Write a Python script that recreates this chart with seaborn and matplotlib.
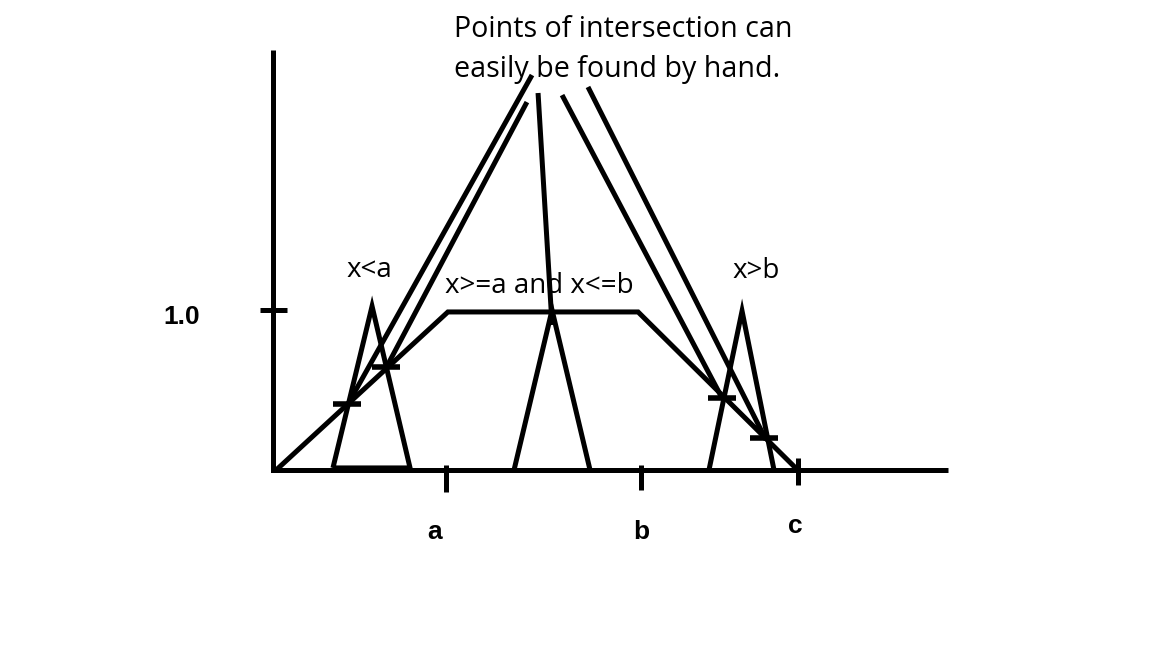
import matplotlib
matplotlib.use("Agg")
import matplotlib.pyplot as plt
import seaborn as sns

sns.set_theme(style="white")
plt.rcParams['font.family'] = ['Open Sans', 'DejaVu Sans']

# diagram units: 1.0 = top of the membership function
axis_x = [0.0, 0.0, 4.245]
axis_y = [2.64, 0.0, 0.0]

trap_x = [0.02, 1.10, 2.296, 3.30]
trap_y = [0.0, 0.994, 0.994, 0.0]

tri_left_x = [0.377, 0.623, 0.862, 0.377]
tri_left_y = [0.013, 1.03, 0.013, 0.013]
tri_mid_x = [1.516, 1.755, 1.994]
tri_mid_y = [0.0, 1.006, 0.0]
tri_right_x = [2.742, 2.950, 3.151]
tri_right_y = [0.0, 1.0, 0.0]

# pointer lines from the note to the crossings
pointers = [
    ([1.629, 0.465], [2.484, 0.403]),
    ([1.597, 0.711], [2.314, 0.642]),
    ([1.667, 1.755], [2.371, 0.912]),
    ([1.818, 2.824], [2.358, 0.453]),
    ([1.981, 3.101], [2.409, 0.189]),
]

cross_x = [0.465, 0.711, 2.824, 3.088]
cross_y = [0.415, 0.648, 0.453, 0.201]

tick_labels = ["a", "b", "c"]
tick_pos = [1.088, 2.314, 3.30]
tick_lo = [-0.138, -0.125, -0.094]
tick_hi = [0.03, 0.03, 0.075]
label_x = [1.019, 2.318, 3.283]
label_y = [-0.434, -0.434, -0.396]

case_labels = ["x<a", "x>=a and x<=b", "x>b"]
case_x = [0.465, 1.082, 2.887]
case_y = [1.214, 1.113, 1.208]

note_lines = ["Points of intersection can", "easily be found by hand."]
note_y = [2.723, 2.472]

fig = plt.figure(figsize=(11.52, 6.48), dpi=100)
ax = fig.add_axes([0, 0, 1, 1])
lw = 3.6

def draw(xs, ys):
    sns.lineplot(x=xs, y=ys, sort=False, estimator=None, color="black",
                 lw=lw, ax=ax, solid_joinstyle="miter", solid_capstyle="butt")

draw(axis_x, axis_y)
draw(trap_x, trap_y)
draw(tri_left_x, tri_left_y)
draw(tri_mid_x, tri_mid_y)
draw(tri_right_x, tri_right_y)
for px, py in pointers:
    draw(px, py)

# y tick at 1.0
draw([-0.082, 0.088], [1.006, 1.006])
for xp, lo, hi in zip(tick_pos, tick_lo, tick_hi):
    draw([xp, xp], [hi, lo])

bold = dict(fontsize=19, fontweight="bold", color="black",
            family=["Liberation Sans", "DejaVu Sans"])
for lab, lx, ly in zip(tick_labels, label_x, label_y):
    ax.text(lx, ly, lab, ha="center", va="baseline", **bold)
ax.text(-0.575, 0.965, "1.0", ha="center", va="center", **bold)

sns.scatterplot(x=cross_x, y=cross_y, marker="_", s=420, linewidth=4,
                color="black", ax=ax)

for lab, lx, ly in zip(case_labels, case_x, case_y):
    ax.text(lx, ly, lab, ha="left", va="baseline", fontsize=20, color="black")

for line, ly in zip(note_lines, note_y):
    ax.text(1.14, ly, line, ha="left", va="baseline", fontsize=20.6, color="black")

ax.set_xlim(-273 / 159, (1152 - 273) / 159)
ax.set_ylim((470 - 648) / 159, 470 / 159)
ax.axis("off")

fig.savefig("out.png", dpi=100)
